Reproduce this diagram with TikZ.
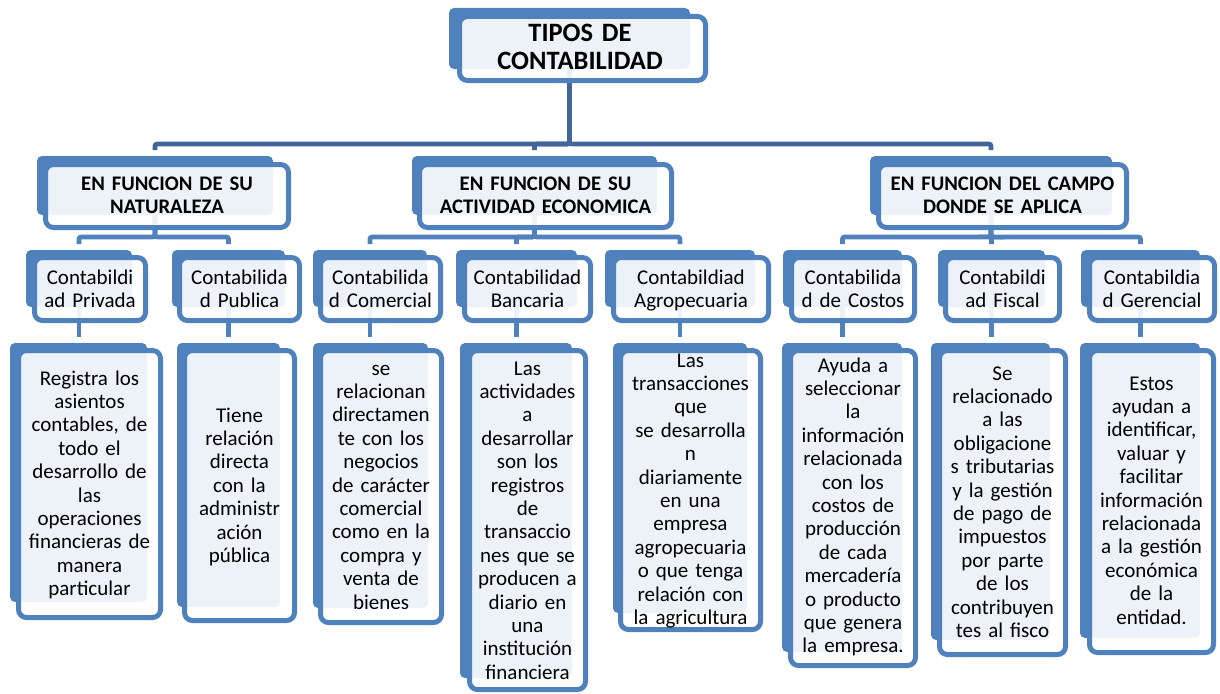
\documentclass[tikz,border=0pt]{standalone}
\usepackage{fontspec}
\setmainfont{Carlito}
\pgfdeclarelayer{bg}
\pgfsetlayers{bg,main}
\definecolor{accblue}{HTML}{4F81BD}
\definecolor{connblue}{HTML}{41679A}
\tikzset{
  backbox/.style={fill=accblue, rounded corners=5pt, inner sep=0pt, outer sep=0pt, draw=none},
  frontbox/.style={draw=accblue, line width=5pt, fill=white, fill opacity=0.9, rounded corners=8pt, inner sep=0pt, outer sep=0pt},
  txt/.style={inner sep=0pt, outer sep=0pt, anchor=base, align=center, text width=240pt, text=black, font=\fontsize{21}{23.4}\selectfont},
  hdtxt/.style={txt, font=\bfseries\fontsize{20.7}{23}\selectfont},
  titletxt/.style={txt, font=\bfseries\fontsize{26.5}{28}\selectfont},
  conntop/.style={draw=connblue, line width=4.6pt, rounded corners=2pt, shorten >=6pt},
  connmid/.style={draw=accblue, line width=4.6pt, rounded corners=2pt, shorten >=6pt}
}
\newcommand\cbox[9]{%
  \node[backbox, minimum width={(#4)-(#2)}, minimum height={(#5)-(#3)}] (#1) at ({((#2)+(#4))/2},{((#3)+(#5))/2}) {};
  \node[frontbox, minimum width={(#8)-(#6)-5}, minimum height={(#9)-(#7)-5}] (#1f) at ({((#6)+(#8))/2},{((#7)+(#9))/2}) {};
}
\begin{document}
\begin{tikzpicture}[x=1pt,y=-1pt]
\useasboundingbox (0,0) rectangle (1220,693);
% level 1
\cbox{t}{449}{8}{690}{69}{457}{14}{708}{83}
% level 2
\cbox{a}{37}{156}{273}{215}{43}{162}{291}{230}
\cbox{b}{412}{156}{657}{215}{417}{162}{674}{230}
\cbox{c}{870}{156}{1112}{215}{876}{162}{1129}{230}
% level 3
\cbox{a1}{26}{250}{132}{307}{32}{255}{148}{323}
\cbox{a2}{172}{250}{285}{307}{177}{255}{302}{323}
\cbox{b1}{313}{250}{427}{307}{318}{255}{443}{323}
\cbox{b2}{456}{250}{577}{307}{462}{255}{593}{323}
\cbox{b3}{605}{250}{755}{307}{611}{255}{771}{323}
\cbox{c1}{783}{250}{902}{307}{789}{255}{917}{323}
\cbox{c2}{938}{250}{1045}{307}{943}{255}{1062}{323}
\cbox{c3}{1081}{250}{1200}{307}{1087}{255}{1217}{323}
% level 4
\cbox{a1d}{10}{343}{147}{602}{16}{348}{163}{620}
\cbox{a2d}{177}{343}{280}{607}{182}{348}{297}{623}
\cbox{b1d}{313}{343}{428}{608}{318}{348}{444}{625}
\cbox{b2d}{460}{343}{572}{678}{467}{348}{588}{692}
\cbox{b3d}{613}{343}{747}{613}{618}{348}{763}{632}
\cbox{c1d}{782}{343}{902}{652}{788}{348}{918}{668}
\cbox{c2d}{931}{343}{1050}{640}{937}{348}{1068}{657}
\cbox{c3d}{1080}{343}{1200}{638}{1087}{348}{1216}{655}

% texts
\node[titletxt] (tt) at (580,42) {TIPOS DE\\CONTABILIDAD};
\node[hdtxt] (at) at (167,190) {EN FUNCION DE SU\\NATURALEZA};
\node[hdtxt] (bt) at (545.5,190) {EN FUNCION DE SU\\ACTIVIDAD ECONOMICA};
\node[hdtxt] (ct) at (1002.5,190) {EN FUNCION DEL CAMPO\\DONDE SE APLICA};

\node[txt] (a1t) at (90,284) {Contabildi\\ad Privada};
\node[txt] (a2t) at (239.5,284) {Contabilida\\d Publica};
\node[txt] (b1t) at (380.5,284) {Contabilida\\d Comercial};
\node[txt] (b2t) at (527.5,284) {Contabilidad\\Bancaria};
\node[txt] (b3t) at (691,284) {Contabildiad\\Agropecuaria};
\node[txt] (c1t) at (853,284) {Contabilida\\d de Costos};
\node[txt] (c2t) at (1002.5,284) {Contabildi\\ad Fiscal};
\node[txt] (c3t) at (1152,284) {Contabildia\\d Gerencial};

\node[txt] (a1dt) at (89.5,385) {Registra los\\asientos\\contables, de\\todo el\\desarrollo de\\las\\operaciones\\financieras de\\manera\\particular};
\node[txt] (a2dt) at (239.5,422) {Tiene\\relación\\directa\\con la\\administr\\ación\\pública};
\node[txt] (b1dt) at (381,375) {se\\relacionan\\directamen\\te con los\\negocios\\de carácter\\comercial\\como en la\\compra y\\venta de\\bienes};
\node[txt] (b2dt) at (527.5,375) {Las\\actividades\\a\\desarrollar\\son los\\registros\\de\\transaccio\\nes que se\\producen a\\diario en\\una\\institución\\financiera};
\node[txt] (b3dt) at (690.5,367) {Las\\transacciones\\que\\se desarrolla\\n\\diariamente\\en una\\empresa\\agropecuaria\\o que tenga\\relación con\\la agricultura};
\node[txt] (c1dt) at (853,372) {Ayuda a\\seleccionar\\la\\información\\relacionada\\con los\\costos de\\producción\\de cada\\mercadería\\o producto\\que genera\\la empresa.};
\node[txt] (c2dt) at (1002.5,380) {Se\\relacionado\\a las\\obligacione\\s tributarias\\y la gestión\\de pago de\\impuestos\\por parte\\de los\\contribuyen\\tes al fisco};
\node[txt] (c3dt) at (1151.5,390) {Estos\\ayudan a\\identificar,\\valuar y\\facilitar\\información\\relacionada\\a la gestión\\económica\\de la\\entidad.};

% connectors
\begin{pgfonlayer}{bg}
\foreach \ch in {a,b,c}{
  \draw[conntop] (t.south) -- ++(0,75) -| (\ch.north);
}
\foreach \ch in {a1,a2}{
  \draw[connmid] (a.south) -- ++(0,22) -| (\ch.north);
}
\foreach \ch in {b1,b2,b3}{
  \draw[connmid] (b.south) -- ++(0,22) -| (\ch.north);
}
\foreach \ch in {c1,c2,c3}{
  \draw[connmid] (c.south) -- ++(0,22) -| (\ch.north);
}
\foreach \ch in {a1,a2,b1,b2,b3,c1,c2,c3}{
  \draw[connmid] (\ch.south) -- (\ch.south |- \ch d.north);
}
\end{pgfonlayer}
\end{tikzpicture}
\end{document}
